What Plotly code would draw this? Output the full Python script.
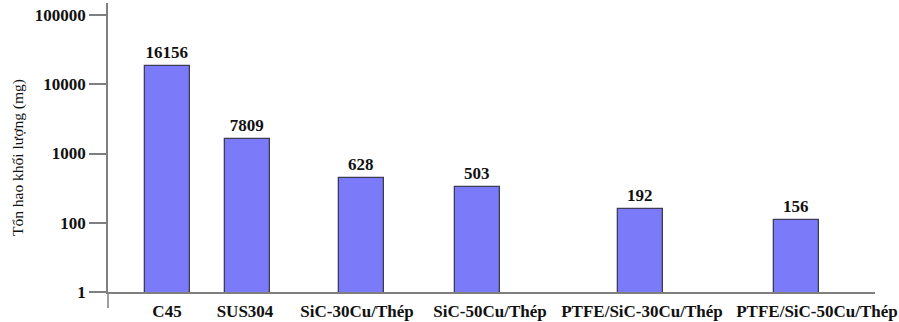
import plotly.graph_objects as go

# ---- data ----
categories = ["C45", "SUS304", "SiC-30Cu/Thép", "SiC-50Cu/Thép",
              "PTFE/SiC-30Cu/Thép", "PTFE/SiC-50Cu/Thép"]
bar_values = [18400, 1620, 443, 328, 158, 110]          # bar heights as drawn on the log axis
label_texts = ["16156", "7809", "628", "503", "192", "156"]  # printed value labels
y_tick_values = [10, 100, 1000, 10000, 100000]
y_tick_labels = ["1", "100", "1000", "10000", "100000"]
y_title = "Tổn hao khối lượng (mg)"

# ---- layout (non-uniform slot centres as in the original; labels slightly offset) ----
slot_centres = [59, 139, 253, 369, 532, 688]
label_centres = [59, 137, 249, 382, 534, 709]
bar_width = 45

serif = "Liberation Serif"
axis_grey = "#7f7f7f"

fig = go.Figure(
    go.Bar(
        x=slot_centres,
        y=bar_values,
        width=bar_width,
        text=label_texts,
        textposition="outside",
        cliponaxis=False,
        textfont=dict(family=serif, size=17, color="#111111", weight="bold"),
        marker=dict(color="#7b7bf9", line=dict(color="#3c3c55", width=1.3)),
        hoverinfo="skip",
    )
)

plot_h = 322 - 3 - 30  # plot area height in px
plot_w = 899 - 108 - 24

fig.update_layout(
    width=899, height=322,
    margin=dict(l=108, r=24, t=3, b=30),
    paper_bgcolor="white", plot_bgcolor="white",
    showlegend=False,
    bargap=0,
    xaxis=dict(
        range=[0, 767],
        tickvals=label_centres,
        ticktext=categories,
        ticks="",
        tickangle=0,
        ticklabelstandoff=3,
        showgrid=False, zeroline=False,
        showline=True, linecolor=axis_grey, linewidth=1.5,
        automargin=False,
        tickfont=dict(family=serif, size=17, color="#111111", weight="bold"),
    ),
    yaxis=dict(
        type="log",
        range=[1, 1 + plot_h / 69.25],
        tickvals=y_tick_values,
        ticktext=y_tick_labels,
        ticks="outside", ticklen=17, tickwidth=1.5, tickcolor=axis_grey,
        showgrid=False, zeroline=False,
        showline=True, linecolor=axis_grey, linewidth=1.5,
        automargin=False,
        tickfont=dict(family=serif, size=17, color="#111111", weight="bold"),
    ),
    annotations=[
        dict(text=y_title, textangle=-90, showarrow=False,
             xref="paper", yref="paper",
             x=(18 - 108) / plot_w, y=(292 - 158) / plot_h,
             xanchor="center", yanchor="middle",
             font=dict(family=serif, size=15.5, color="#111111")),
    ],
    shapes=[
        # continuation of the y axis line below the x axis, as in the original
        dict(type="line", xref="paper", yref="paper", x0=0, x1=0,
             y0=0, y1=-16 / plot_h, line=dict(color=axis_grey, width=1.5)),
    ],
)

fig.write_html("out.html", config={"displayModeBar": False},
               post_script="document.body.style.margin='0';")
